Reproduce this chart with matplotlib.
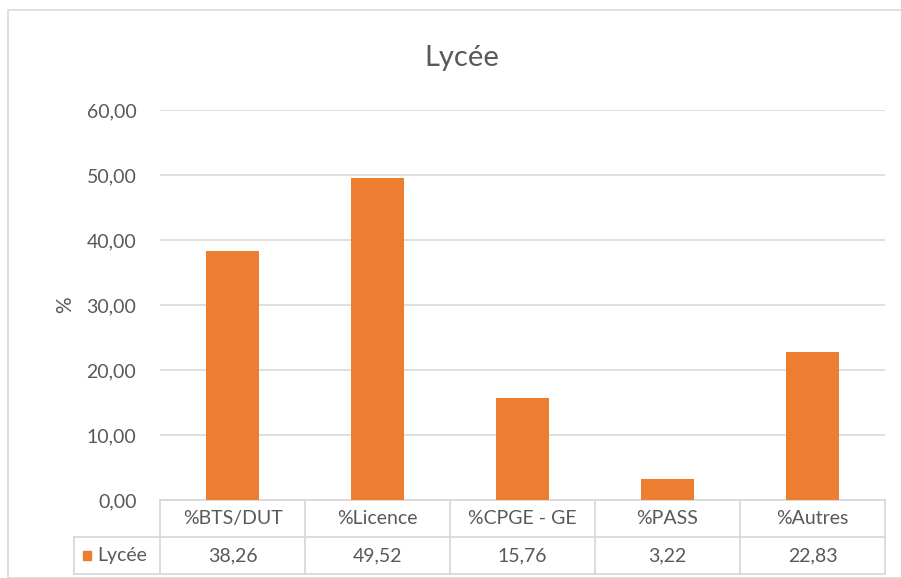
import matplotlib.pyplot as plt
from matplotlib.transforms import blended_transform_factory
from matplotlib.patches import Rectangle

# data
categories = ['%BTS/DUT', '%Licence', '%CPGE - GE', '%PASS', '%Autres']
values = [38.26, 49.52, 15.76, 3.22, 22.83]
series_name = 'Lycée'
yticks = [0, 10, 20, 30, 40, 50, 60]

plt.rcParams['font.family'] = ['Lato', 'DejaVu Sans']
TXT = '#595959'
GRID = '#d9d9d9'
BAR = '#ED7D31'
FS = 14

W, H = 901, 578
fig = plt.figure(figsize=(W / 100, H / 100), dpi=100)

# chart frame
fig.patches.append(Rectangle((8 / W, 0), 1, 1 - 10 / H, transform=fig.transFigure,
                             fill=False, edgecolor=GRID, linewidth=1.2))

ax = fig.add_axes([160 / W, 1 - 500 / H, 725 / W, 390 / H])
x = list(range(len(categories)))
ax.bar(x, values, width=0.37, color=BAR, zorder=3)
ax.set_xlim(-0.5, len(categories) - 0.5)
ax.set_ylim(0, 60)
ax.set_yticks(yticks)
ax.set_yticklabels([f'{t:.2f}'.replace('.', ',') for t in yticks], color=TXT, fontsize=FS)
ax.tick_params(axis='y', length=0, pad=17)
ax.set_xticks([])
for s in ax.spines.values():
    s.set_visible(False)
ax.yaxis.grid(True, color=GRID, linewidth=1.2, zorder=0)
ax.set_ylabel('%', color=TXT, fontsize=FS + 1, labelpad=8)

fig.text(462 / W, 1 - 58 / H, 'Lycée', ha='center', va='center', color=TXT, fontsize=21)

# data table below the axis
tr = blended_transform_factory(ax.transData, ax.transAxes)
row = 37 / 390
n = len(categories)
left = -0.5 - 86 / 145
kw = dict(color=GRID, linewidth=1.3, transform=tr, clip_on=False)
ax.plot([-0.5, n - 0.5], [0, 0], **kw)
ax.plot([left, n - 0.5], [-row, -row], **kw)
ax.plot([left, n - 0.5], [-2 * row, -2 * row], **kw)
for i in range(n + 1):
    ax.plot([i - 0.5, i - 0.5], [0, -2 * row], **kw)
ax.plot([left, left], [-row, -2 * row], **kw)

for i, (c, v) in enumerate(zip(categories, values)):
    ax.text(i, -row / 2, c, ha='center', va='center', color=TXT, fontsize=FS,
            transform=tr, clip_on=False)
    ax.text(i, -1.5 * row, f'{v:.2f}'.replace('.', ','), ha='center', va='center',
            color=TXT, fontsize=FS, transform=tr, clip_on=False)

ax.add_patch(Rectangle((left + 0.06, -1.5 * row - 0.012), 0.055, 0.024, color=BAR,
                       transform=tr, clip_on=False))
ax.text(left + 0.16, -1.5 * row, series_name, ha='left', va='center', color=TXT,
        fontsize=FS, transform=tr, clip_on=False)

fig.savefig('out.png', dpi=100)
